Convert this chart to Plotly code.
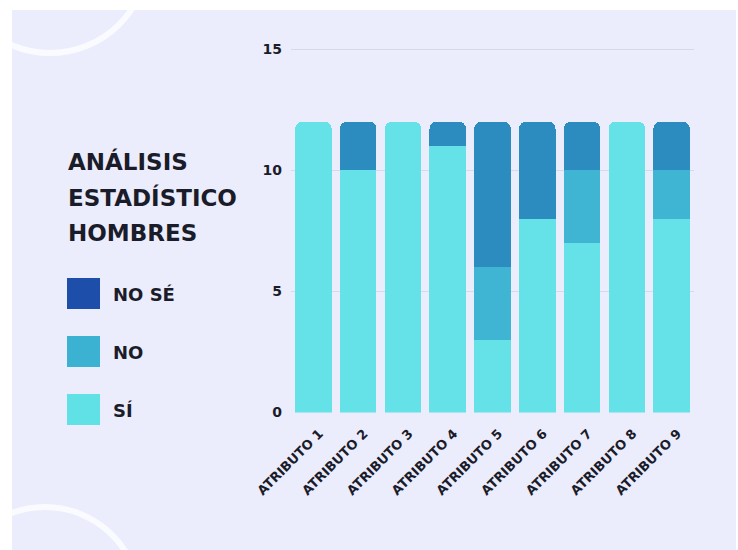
import plotly.graph_objects as go

W, H = 738, 550

categories = [f"ATRIBUTO {i}" for i in range(1, 10)]
si_values = [12, 10, 12, 11, 3, 8, 7, 12, 8]
no_values = [0, 0, 0, 0, 3, 0, 3, 0, 2]
nose_values = [0, 2, 0, 1, 6, 4, 2, 0, 2]
y_ticks = [0, 5, 10, 15]

title_lines = ["ANÁLISIS", "ESTADÍSTICO", "HOMBRES"]
legend_labels = ["NO SÉ", "NO", "SÍ"]
legend_colors = ["#1C4EAA", "#3CB2D2", "#5FE1E6"]

bar_colors = {"SÍ": "#64E2E7", "NO": "#3FB5D3", "NO SÉ": "#2C8BBF"}
FONT = "DejaVu Sans"
TXT = "#1b1c2a"


def px(x):
    return x / W


def py(y):
    return 1 - y / H


fig = go.Figure()
for name, vals in [("SÍ", si_values), ("NO", no_values), ("NO SÉ", nose_values)]:
    fig.add_trace(go.Bar(x=categories, y=vals, name=name,
                         marker=dict(color=bar_colors[name], line=dict(width=0)),
                         showlegend=False))

shapes = []
# lavender background with white border strips
shapes.append(dict(type="rect", xref="paper", yref="paper", layer="below",
                   x0=px(12), x1=px(736), y0=py(552), y1=py(10),
                   fillcolor="#ECEDFC", line=dict(width=0)))
# decorative arcs
shapes.append(dict(type="circle", xref="paper", yref="paper", layer="below",
                   x0=px(50 - 98), x1=px(50 + 98), y0=py(-45 + 98), y1=py(-45 - 98),
                   line=dict(color="rgba(255,255,255,0.75)", width=6)))
shapes.append(dict(type="circle", xref="paper", yref="paper", layer="below",
                   x0=px(45 - 95), x1=px(45 + 95), y0=py(602 + 95), y1=py(602 - 95),
                   line=dict(color="rgba(255,255,255,0.75)", width=6)))
# legend swatches
sw_y = [278, 336, 394]
for yy, col in zip(sw_y, legend_colors):
    shapes.append(dict(type="rect", xref="paper", yref="paper",
                       x0=px(67), x1=px(100), y0=py(yy + 31), y1=py(yy),
                       fillcolor=col, line=dict(width=0)))

annotations = []
for i, line in enumerate(title_lines):
    annotations.append(dict(text=line, xref="paper", yref="paper", x=px(66), y=py(161 + 36 * i),
                            xanchor="left", yanchor="middle", showarrow=False,
                            font=dict(family=FONT, size=23, color=TXT, weight="bold")))
for yy, lab in zip(sw_y, legend_labels):
    annotations.append(dict(text=lab, xref="paper", yref="paper", x=px(111), y=py(yy + 16),
                            xanchor="left", yanchor="middle", showarrow=False,
                            font=dict(family=FONT, size=18, color=TXT, weight="bold")))

fig.update_layout(
    width=W, height=H,
    margin=dict(l=0, r=0, t=0, b=0),
    paper_bgcolor="white",
    plot_bgcolor="rgba(0,0,0,0)",
    barmode="stack",
    bargap=0.185,
    barcornerradius=7,
    shapes=shapes,
    annotations=annotations,
    font=dict(family=FONT, color=TXT),
    xaxis=dict(domain=[px(291), px(694)], automargin=False, showgrid=False, showline=False,
               zeroline=False, tickangle=-45, ticks="", ticklabelstandoff=10, ticklabelshift=6,
               tickfont=dict(family=FONT, size=13, color=TXT, weight="bold")),
    yaxis=dict(domain=[py(412.5), py(47.8)], automargin=False, range=[0, 15.05],
               tickvals=y_ticks, showgrid=True, gridcolor="#D6D8EC", gridwidth=1,
               zeroline=False, showline=False, ticks="", ticklabelstandoff=8,
               tickfont=dict(family=FONT, size=14, color=TXT, weight="bold")),
)

fig.write_html("out.html", config={"displayModeBar": False},
               post_script="document.body.style.margin='0px';document.body.style.overflow='hidden';")
